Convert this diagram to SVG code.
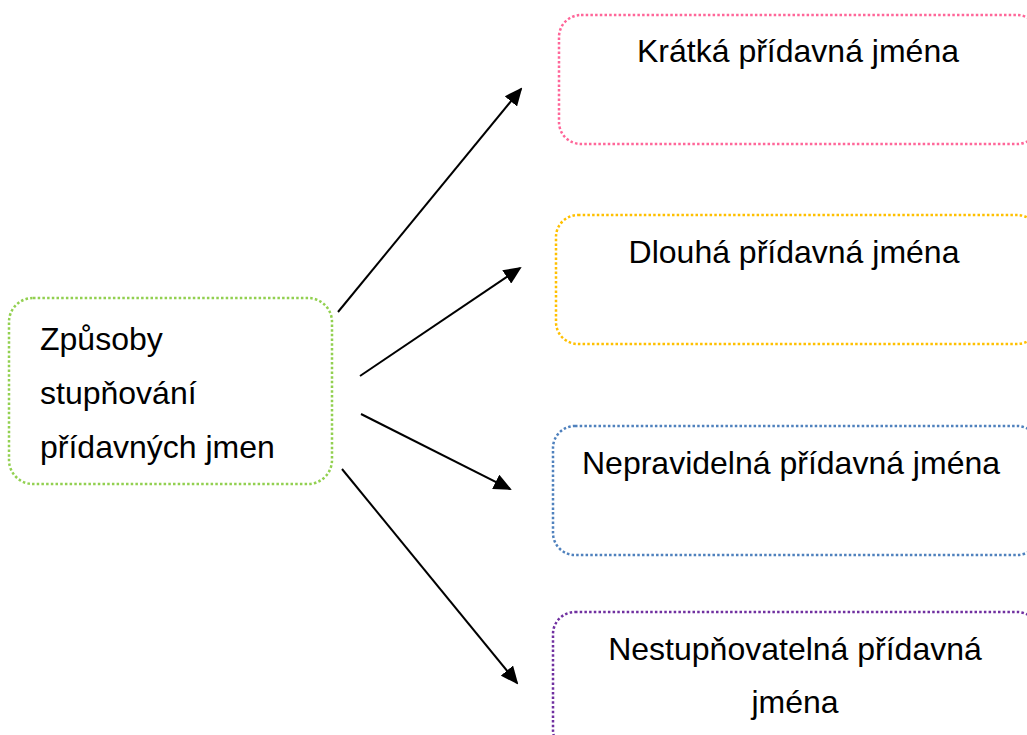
<svg xmlns="http://www.w3.org/2000/svg" width="1027" height="735" viewBox="0 0 1027 735">
<style>
.box{fill:#fff;stroke-width:2.5;stroke-dasharray:2.5 2.2}
.t{font-family:"Liberation Sans",Arial,sans-serif;font-size:32px;fill:#000}
.c{text-anchor:middle}
.con line{stroke:#000;stroke-width:2}
</style>
<defs>
<marker id="ah" markerWidth="9" markerHeight="8" refX="8" refY="4" orient="auto" markerUnits="strokeWidth">
<path d="M0,0 L9,4 L0,8 Z" fill="#000"/>
</marker>
</defs>
<rect width="1027" height="735" fill="#fff"/>
<g id="src">
<rect class="box" x="9" y="298" width="323" height="186" rx="24" stroke="#92d050"/>
<text class="t" x="40" y="350">Způsoby</text>
<text class="t" x="40" y="404">stupňování</text>
<text class="t" x="40" y="458">přídavných jmen</text>
</g>
<g id="n1">
<rect class="box" x="559" y="15" width="480" height="129" rx="22" stroke="#ff6699"/>
<text class="t c" x="798" y="62">Krátká přídavná jména</text>
</g>
<g id="n2">
<rect class="box" x="556" y="215" width="483" height="129" rx="22" stroke="#ffc000"/>
<text class="t c" x="794" y="263">Dlouhá přídavná jména</text>
</g>
<g id="n3">
<rect class="box" x="553" y="426" width="486" height="129" rx="22" stroke="#4f81bd"/>
<text class="t c" x="791" y="474">Nepravidelná přídavná jména</text>
</g>
<g id="n4">
<rect class="box" x="553" y="612" width="486" height="140" rx="22" stroke="#7030a0"/>
<text class="t c" x="795" y="660">Nestupňovatelná přídavná</text>
<text class="t c" x="795" y="713">jména</text>
</g>
<g class="con" id="connectors">
<line x1="338" y1="312" x2="521" y2="89" marker-end="url(#ah)"/>
<line x1="360" y1="376" x2="520" y2="268" marker-end="url(#ah)"/>
<line x1="361" y1="414" x2="510" y2="489" marker-end="url(#ah)"/>
<line x1="342" y1="469" x2="517" y2="683" marker-end="url(#ah)"/>
</g>
</svg>
